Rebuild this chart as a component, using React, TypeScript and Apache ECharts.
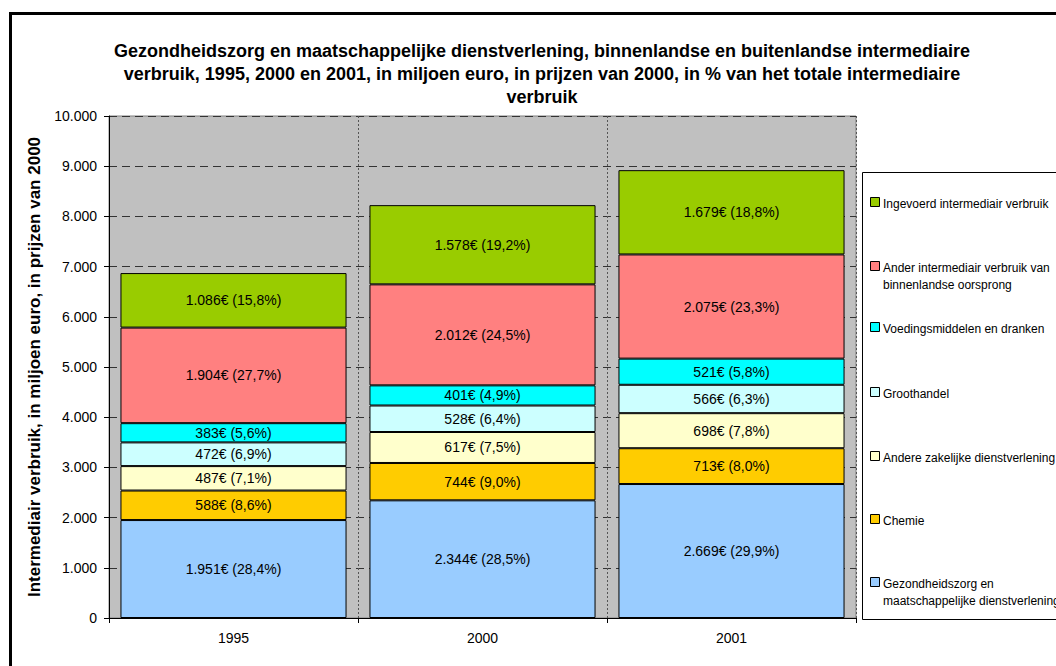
import React, { useEffect, useRef } from "react";
import * as echarts from "echarts";

const years = ["1995", "2000", "2001"];
const seriesNames = [
  "Gezondheidszorg en maatschappelijke dienstverlening",
  "Chemie",
  "Andere zakelijke dienstverlening",
  "Groothandel",
  "Voedingsmiddelen en dranken",
  "Ander intermediair verbruik van binnenlandse oorsprong",
  "Ingevoerd intermediair verbruik",
];
const legendLabels = [
  "Gezondheidszorg en\nmaatschappelijke dienstverlening",
  "Chemie",
  "Andere zakelijke dienstverlening",
  "Groothandel",
  "Voedingsmiddelen en dranken",
  "Ander intermediair verbruik van\nbinnenlandse oorsprong",
  "Ingevoerd intermediair verbruik",
];
const colors = ["#99CCFF", "#FFCC00", "#FFFFCC", "#CCFFFF", "#00FFFF", "#FF8080", "#99CC00"];

const gezondheidszorg = [1951, 2344, 2669];
const chemie = [588, 744, 713];
const andereZakelijke = [487, 617, 698];
const groothandel = [472, 528, 566];
const voedingsmiddelen = [383, 401, 521];
const anderBinnenlands = [1904, 2012, 2075];
const ingevoerd = [1086, 1578, 1679];

const pctGezondheidszorg = ["28,4", "28,5", "29,9"];
const pctChemie = ["8,6", "9,0", "8,0"];
const pctAndereZakelijke = ["7,1", "7,5", "7,8"];
const pctGroothandel = ["6,9", "6,4", "6,3"];
const pctVoedingsmiddelen = ["5,6", "4,9", "5,8"];
const pctAnderBinnenlands = ["27,7", "24,5", "23,3"];
const pctIngevoerd = ["15,8", "19,2", "18,8"];

const yTicks = [0, 1000, 2000, 3000, 4000, 5000, 6000, 7000, 8000, 9000, 10000];

const titleText =
  "Gezondheidszorg en maatschappelijke dienstverlening, binnenlandse en buitenlandse intermediaire\n" +
  "verbruik, 1995, 2000 en 2001, in miljoen euro, in prijzen van 2000, in % van het totale intermediaire\n" +
  "verbruik";
const yAxisTitle = "Intermediair verbruik, in miljoen euro, in prijzen van 2000";

const values = [gezondheidszorg, chemie, andereZakelijke, groothandel, voedingsmiddelen, anderBinnenlands, ingevoerd];
const pcts = [pctGezondheidszorg, pctChemie, pctAndereZakelijke, pctGroothandel, pctVoedingsmiddelen, pctAnderBinnenlands, pctIngevoerd];

const fmt = (v: number) => String(v).replace(/\B(?=(\d{3})+(?!\d))/g, ".");
const FONT = "'Liberation Sans', Arial, sans-serif";

// legend layout (top to bottom = reverse of stack)
const legendRowY = [583, 520, 457, 393, 328, 267, 203];

export default function App() {
  const ref = useRef<HTMLDivElement>(null);
  useEffect(() => {
    if (!ref.current) return;
    const chart = echarts.init(ref.current, undefined, { renderer: "svg" });

    const legendGraphics: any[] = [
      {
        type: "rect",
        shape: { x: 862.5, y: 172.5, width: 220, height: 447 },
        style: { fill: "#fff", stroke: "#000", lineWidth: 1 },
        z: 10,
      },
    ];
    seriesNames.forEach((_, i) => {
      const y = legendRowY[i];
      legendGraphics.push({
        type: "rect",
        shape: { x: 870.5, y: y - 5.5, width: 9, height: 9 },
        style: { fill: colors[i], stroke: "#000", lineWidth: 1 },
        z: 11,
      });
      legendGraphics.push({
        type: "text",
        x: 883,
        y: y - 8,
        style: {
          text: legendLabels[i],
          font: `12px ${FONT}`,
          fill: "#000",
          lineHeight: 17,
          textVerticalAlign: "top",
        },
        z: 11,
      });
    });

    chart.setOption({
      animation: false,
      textStyle: { fontFamily: FONT },
      title: {
        text: titleText,
        left: 537,
        top: 34,
        textAlign: "center",
        textStyle: { fontSize: 18, fontWeight: "bold", color: "#000", lineHeight: 23, fontFamily: FONT },
      },
      grid: {
        left: 109,
        top: 116,
        right: 200,
        bottom: 48,
        show: true,
        backgroundColor: "#C0C0C0",
        borderColor: "#808080",
        borderWidth: 1,
      },
      xAxis: {
        type: "category",
        data: years,
        axisLine: { lineStyle: { color: "#000", width: 1 } },
        axisTick: { show: true, length: 5, lineStyle: { color: "#000" } },
        axisLabel: { color: "#000", fontSize: 14, margin: 13, fontFamily: FONT },
        splitLine: { show: true, lineStyle: { color: "#555", type: [2, 2], width: 1 } },
      },
      yAxis: {
        type: "value",
        min: 0,
        max: 10000,
        interval: 1000,
        name: yAxisTitle,
        nameLocation: "middle",
        nameRotate: 90,
        nameGap: 55,
        nameTextStyle: { fontSize: 17, fontWeight: "bold", color: "#000", fontFamily: FONT },
        axisLine: { show: true, lineStyle: { color: "#000", width: 1 } },
        axisTick: { show: true, length: 5, lineStyle: { color: "#000" } },
        axisLabel: {
          color: "#000",
          fontSize: 14,
          margin: 12,
          fontFamily: FONT,
          formatter: (v: number) => (yTicks.includes(v) ? fmt(v) : ""),
        },
        splitLine: { show: true, lineStyle: { color: "#333", type: [8, 5], width: 1 } },
      },
      series: seriesNames.map((name, i) => ({
        name,
        type: "bar",
        stack: "total",
        barCategoryGap: "9.2%",
        data: values[i],
        itemStyle: { color: colors[i], borderColor: "#000", borderWidth: 1 },
        label: {
          show: true,
          position: "inside",
          color: "#000",
          fontSize: 14,
          fontFamily: FONT,
          formatter: (p: any) => `${fmt(values[i][p.dataIndex])}€ (${pcts[i][p.dataIndex]}%)`,
        },
      })),
      graphic: [
        {
          type: "rect",
          shape: { x: 10.5, y: 13.5, width: 1200, height: 800 },
          style: { fill: "none", stroke: "#000", lineWidth: 3 },
          silent: true,
          z: 20,
        },
        ...legendGraphics,
      ],
    });
    return () => chart.dispose();
  }, []);
  return (
    <div
      ref={ref}
      style={{ position: "absolute", left: 0, top: 0, width: 1056, height: 666, background: "#fff" }}
    />
  );
}
